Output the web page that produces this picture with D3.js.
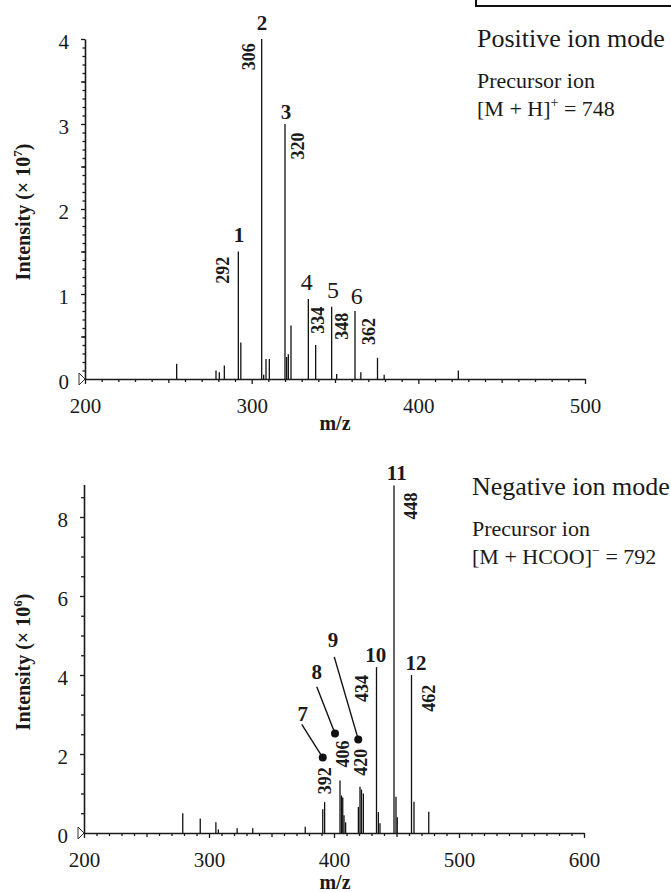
<!DOCTYPE html>
<html lang="en">
<head>
<meta charset="UTF-8">
<title>MS/MS spectra</title>
<style>
  * { margin: 0; padding: 0 }
  body { background: #fff; }
  svg text { font-family: "Liberation Serif", "DejaVu Serif", serif; fill: #1a1a1a; }
</style>
</head>
<body>
<script src="https://d3js.org/d3.v7.min.js"></script>
<script>
// ---- positive ion mode (intensity x 10^7)
const posMz  = [255, 278.6, 280.6, 283.6, 292, 293.5, 306, 307.2, 308.6, 310.6, 320, 321, 322, 323.6, 334, 338.4, 348, 351, 362, 365.5, 375.5, 379.5, 424];
const posInt = [0.18, 0.1, 0.08, 0.16, 1.5, 0.43, 4.0, 0.05, 0.235, 0.235, 3.0, 0.26, 0.29, 0.63, 0.94, 0.4, 0.85, 0.06, 0.8, 0.08, 0.25, 0.05, 0.1];
const posYTicks = [0, 1, 2, 3, 4];
const posXTicks = [200, 300, 400, 500];
// peak numbers (label centre m/z, baseline intensity)
const posNums = [
  { t: "1", mz: 292.4, i: 1.61, bold: true },
  { t: "2", mz: 306.2, i: 4.11, bold: true },
  { t: "3", mz: 320.6, i: 3.06, bold: true },
  { t: "4", mz: 333, i: 1.05, bold: false },
  { t: "5", mz: 348.8, i: 0.95, bold: false },
  { t: "6", mz: 363, i: 0.88, bold: false }
];
// rotated m/z labels (centre)
const posMzLabels = [
  { t: "292", mz: 282.8, i: 1.28 },
  { t: "306", mz: 298.4, i: 3.79 },
  { t: "320", mz: 327.8, i: 2.74 },
  { t: "334", mz: 339.6, i: 0.69 },
  { t: "348", mz: 354, i: 0.62 },
  { t: "362", mz: 370.4, i: 0.56 }
];

// ---- negative ion mode (intensity x 10^6)
const negMz  = [279, 293, 305.5, 307.5, 322.5, 335, 377, 391, 392.5, 404.8, 406, 407, 408, 409.3, 419.5, 420.8, 422, 423.5, 434, 435.5, 436.8, 448, 449.6, 450.6, 462, 464, 475.8];
const negInt = [0.5, 0.37, 0.27, 0.09, 0.12, 0.12, 0.16, 0.6, 0.78, 1.33, 0.95, 0.9, 0.45, 0.27, 0.66, 1.17, 1.1, 1.0, 4.2, 0.53, 0.25, 8.8, 0.92, 0.4, 4.0, 0.79, 0.54];
const negYTicks = [0, 2, 4, 6, 8];
const negXTicks = [200, 300, 400, 500, 600];
const negNums = [
  { t: "10", mz: 433.4, i: 4.33 },
  { t: "11", mz: 450.2, i: 8.94 },
  { t: "12", mz: 465.6, i: 4.13 }
];
const negMzLabels = [
  { t: "392", mz: 392.8, i: 1.32 },
  { t: "406", mz: 407.4, i: 2.0 },
  { t: "420", mz: 421.6, i: 1.79 },
  { t: "434", mz: 422.2, i: 3.66 },
  { t: "448", mz: 461.6, i: 8.28 },
  { t: "462", mz: 476, i: 3.41 }
];
// callouts: label, line start, dot
const negCallouts = [
  { t: "7", mz: 375, i: 2.84, sMz: 374.2, sI: 2.75, dMz: 391, dI: 1.91 },
  { t: "8", mz: 386.2, i: 3.9, sMz: 386.2, sI: 3.7, dMz: 400.8, dI: 2.52 },
  { t: "9", mz: 399.2, i: 4.71, sMz: 400.2, sI: 4.46, dMz: 419.4, dI: 2.37 }
];

const W = 671, H = 892;
const FONT = "Liberation Serif, DejaVu Serif, serif";
const svg = d3.select("body").append("svg").attr("width", W).attr("height", H);

function drawPanel(o) {
  const g = svg.append("g");
  const x = o.x, y = o.y;
  const y0 = y(0);

  // minor / medium ticks on x
  const xMinor = d3.range(x.domain()[0], x.domain()[1] + 1, 10);
  g.append("g").attr("transform", `translate(0,${y0})`)
    .call(d3.axisBottom(x).tickValues(xMinor.filter(v => v % 50 != 0)).tickSize(3).tickFormat("").tickSizeOuter(0))
    .call(a => a.select(".domain").remove());
  g.append("g").attr("transform", `translate(0,${y0})`)
    .call(d3.axisBottom(x).tickValues(xMinor.filter(v => v % 50 == 0 && v % 100 != 0)).tickSize(4).tickFormat("").tickSizeOuter(0))
    .call(a => a.select(".domain").remove());
  const xa = g.append("g").attr("transform", `translate(0,${y0})`)
    .call(d3.axisBottom(x).tickValues(o.xTicks).tickFormat(d3.format("d")).tickSize(5).tickSizeOuter(0).tickPadding(14));
  xa.attr("font-family", FONT);
  xa.selectAll("text").attr("font-size", 21).attr("dy", "0.71em").attr("fill", "#1a1a1a");

  // y axis
  const yTop = y.domain()[1];
  const yMinor = d3.range(0, yTop + 1e-9, o.yMinorStep).map(v => +v.toFixed(3));
  g.append("g").attr("transform", `translate(${x.range()[0]},0)`)
    .call(d3.axisLeft(y).tickValues(yMinor.filter(v => !o.yTicks.includes(v))).tickSize(o.yMinorSize).tickFormat("").tickSizeOuter(0))
    .call(a => a.select(".domain").remove());
  if (o.yMid) {
    g.append("g").attr("transform", `translate(${x.range()[0]},0)`)
      .call(d3.axisLeft(y).tickValues(o.yMid).tickSize(4).tickFormat("").tickSizeOuter(0))
      .call(a => a.select(".domain").remove());
  }
  const ya = g.append("g").attr("transform", `translate(${x.range()[0]},0)`)
    .call(d3.axisLeft(y).tickValues(o.yTicks).tickFormat(d3.format("d")).tickSize(4).tickSizeOuter(0).tickPadding(12));
  ya.attr("font-family", FONT);
  ya.selectAll("text").attr("font-size", 21).attr("dy", "0.45em").attr("fill", "#1a1a1a");

  g.selectAll(".domain, .tick line").attr("stroke", "#1a1a1a").attr("stroke-width", 1.3);
  g.selectAll(".domain").attr("stroke-width", 1.6);

  // precursor triangle at origin
  const tx = x.range()[0];
  g.append("path")
    .attr("d", `M${tx - 6},${y0 - 6}L${tx},${y0}L${tx - 6},${y0 + 6}Z`)
    .attr("fill", "#fff").attr("stroke", "#333").attr("stroke-width", 1);

  // peaks
  g.selectAll("line.peak").data(o.mz).join("line")
    .attr("class", "peak")
    .attr("x1", d => x(d)).attr("x2", d => x(d))
    .attr("y1", y0).attr("y2", (d, i) => y(o.int[i]))
    .attr("stroke", "#111").attr("stroke-width", 1.3);

  // peak numbers
  g.selectAll("text.num").data(o.nums).join("text")
    .attr("class", "num")
    .attr("x", d => x(d.mz)).attr("y", d => y(d.i))
    .attr("text-anchor", "middle")
    .attr("font-size", d => d.bold === false ? 24 : 21)
    .attr("font-weight", d => d.bold === false ? "normal" : "bold")
    .text(d => d.t);

  // rotated m/z labels
  g.selectAll("text.mzl").data(o.mzLabels).join("text")
    .attr("class", "mzl")
    .attr("transform", d => `translate(${x(d.mz)},${y(d.i)}) rotate(-90)`)
    .attr("text-anchor", "middle").attr("dy", "0.34em")
    .attr("font-size", 18).attr("font-weight", "bold")
    .text(d => d.t);

  // axis titles
  const yt = g.append("text")
    .attr("transform", `translate(${o.yTitleX},${o.yTitleY}) rotate(-90)`)
    .attr("text-anchor", "middle").attr("font-size", 20).attr("font-weight", "bold");
  yt.append("tspan").text("Intensity (× 10");
  yt.append("tspan").attr("dy", -8).attr("font-size", 13).text(o.exp);
  yt.append("tspan").attr("dy", 8).text(")");

  g.append("text").attr("x", 335).attr("y", o.mzTitleY)
    .attr("text-anchor", "middle").attr("font-size", 20).attr("font-weight", "bold")
    .text("m/z");
  return g;
}

// top panel
drawPanel({
  x: d3.scaleLinear().domain([200, 500]).range([85, 585]),
  y: d3.scaleLinear().domain([0, 4]).range([379, 39]),
  mz: posMz, int: posInt, xTicks: posXTicks, yTicks: posYTicks,
  yMinorStep: 0.1, yMinorSize: 2.5, yMid: [0.5, 1.5, 2.5, 3.5],
  nums: posNums, mzLabels: posMzLabels,
  yTitleX: 30, yTitleY: 212, exp: "7", mzTitleY: 430
});

// bottom panel
const xN = d3.scaleLinear().domain([200, 600]).range([84, 584]);
const yN = d3.scaleLinear().domain([0, 8.82]).range([833, 833 - 8.82 * 39.5]);
const gN = drawPanel({
  x: xN, y: yN,
  mz: negMz, int: negInt, xTicks: negXTicks, yTicks: negYTicks,
  yMinorStep: 0.5, yMinorSize: 3, yMid: null,
  nums: negNums, mzLabels: negMzLabels,
  yTitleX: 30, yTitleY: 662, exp: "6", mzTitleY: 889
});
gN.selectAll("text.num").attr("font-size", 21);

// callouts
gN.selectAll("line.call").data(negCallouts).join("line")
  .attr("class", "call")
  .attr("x1", d => xN(d.sMz)).attr("y1", d => yN(d.sI))
  .attr("x2", d => xN(d.dMz)).attr("y2", d => yN(d.dI))
  .attr("stroke", "#111").attr("stroke-width", 1.4);
gN.selectAll("circle.call").data(negCallouts).join("circle")
  .attr("class", "call")
  .attr("cx", d => xN(d.dMz)).attr("cy", d => yN(d.dI)).attr("r", 4)
  .attr("fill", "#111");
gN.selectAll("text.call").data(negCallouts).join("text")
  .attr("class", "call")
  .attr("x", d => xN(d.mz)).attr("y", d => yN(d.i))
  .attr("text-anchor", "middle").attr("font-size", 21).attr("font-weight", "bold")
  .text(d => d.t);

// top-right box and mode text
svg.append("rect").attr("x", 476).attr("y", -20).attr("width", 300).attr("height", 26)
  .attr("fill", "none").attr("stroke", "#111").attr("stroke-width", 2);

function modeText(x0, y0, mode, ionParts) {
  svg.append("text").attr("x", x0).attr("y", y0).attr("font-size", 26).text(mode);
  svg.append("text").attr("x", x0).attr("y", y0 + 41).attr("font-size", 22).text("Precursor ion");
  const t = svg.append("text").attr("x", x0).attr("y", y0 + 69).attr("font-size", 22);
  t.append("tspan").text(ionParts[0]);
  t.append("tspan").attr("dy", -9).attr("font-size", 14).text(ionParts[1]);
  t.append("tspan").attr("dy", 9).text(ionParts[2]);
}
modeText(477, 47, "Positive ion mode", ["[M + H]", "+", " = 748"]);
modeText(472, 495, "Negative ion mode", ["[M + HCOO]", "−", " = 792"]);
</script>
</body>
</html>
